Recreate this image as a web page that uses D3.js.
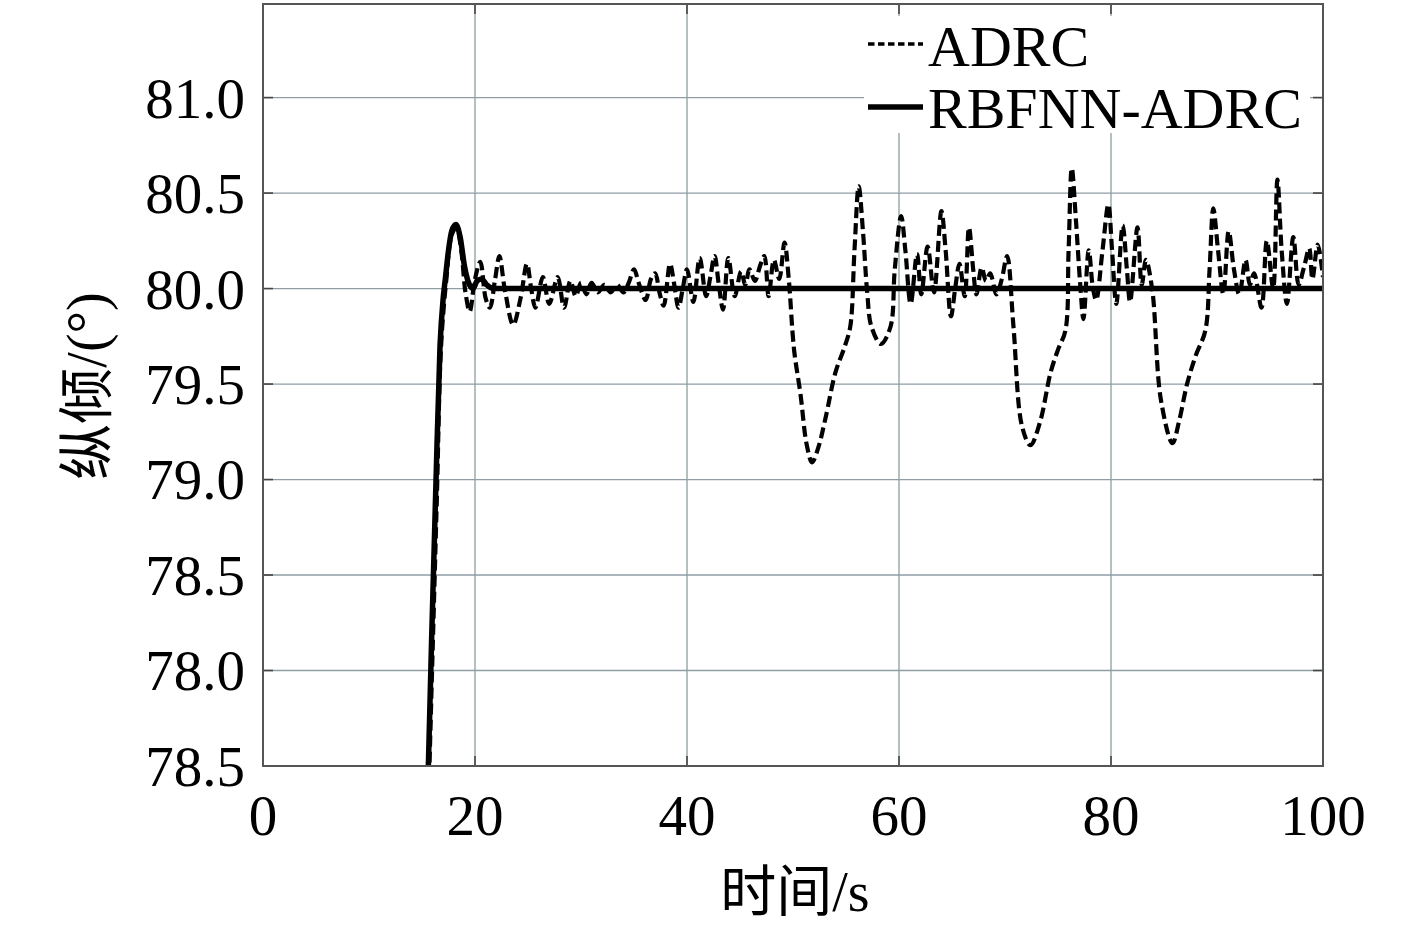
<!DOCTYPE html>
<html>
<head>
<meta charset="utf-8">
<script src="https://d3js.org/d3.v7.min.js"></script>
<style>
  body { margin: 0; background: #fff; }
  text { font-family: "Liberation Serif", "Times New Roman", "Noto Sans CJK SC", serif; fill: #000; }
</style>
</head>
<body>
<div id="chart"></div>
<script>
// x ticks and y ticks (the bottom label reads 78.5 in the original figure)
var xTicks = [0, 20, 40, 60, 80, 100];
var yTickValues = [81.0, 80.5, 80.0, 79.5, 79.0, 78.5, 78.0, 77.5];
var yTickLabels = ["81.0", "80.5", "80.0", "79.5", "79.0", "78.5", "78.0", "78.5"];
var seriesNames = ["ADRC", "RBFNN-ADRC"];

// RBFNN-ADRC response
var rbfT = [15.4, 15.6, 15.9, 16.3, 16.7, 17.0, 17.2, 17.5, 17.8, 18.2, 18.6, 19.0, 19.4, 19.8, 20.2, 20.6, 21.1, 21.7, 30, 50, 70, 100];
var rbfV = [77.1, 77.5, 78.15, 78.95, 79.7, 79.95, 80.05, 80.2, 80.3, 80.335, 80.27, 80.12, 80.03, 80.0, 80.04, 80.05, 80.02, 80.0, 80.0, 80.0, 80.0, 80.0];

// ADRC response
var adrcT = [15.5, 15.7, 16.0, 16.4, 16.8, 17.3, 17.8, 18.25, 18.7, 19.1, 19.5, 20.0, 20.5, 21.0, 21.4, 21.9, 22.3, 22.8, 23.6, 24.3,
  24.9, 25.3, 25.7, 26.4, 27.0, 27.8, 28.4, 29.0, 29.5, 30.0, 30.5, 31.0, 31.6, 32.2, 32.8, 33.4, 34.0, 34.5, 35.0, 35.5,
  36.1, 36.6, 37.0, 37.4, 37.8, 38.4, 38.8, 39.2, 39.6, 40.0, 40.6, 41.2, 41.8, 42.2, 42.6, 43.0, 43.4, 43.9, 44.5, 45.1,
  45.5, 45.9, 46.4, 46.9, 47.3, 47.7, 48.2, 48.7, 49.2, 49.6, 50.1, 50.7, 51.3, 51.8, 52.4, 53.1, 54.0, 54.9, 55.4, 55.8,
  56.2, 56.6, 57.0, 57.4, 58.3, 59.2, 59.6, 60.2, 60.6, 61.1, 61.7, 62.1, 62.7, 63.3, 64.0, 64.4, 64.9, 65.3, 65.7, 66.2,
  66.6, 67.0, 67.3, 67.8, 68.2, 68.6, 69.2, 69.7, 70.2, 70.8, 71.6, 72.4, 73.3, 74.3, 75.0, 75.7, 76.0, 76.3, 76.7, 77.1,
  77.4, 77.9, 78.3, 78.6, 79.2, 79.75, 80.1, 80.5, 81.1, 81.5, 81.8, 82.5, 82.9, 83.3, 83.9, 84.7, 85.8, 86.4, 87.2, 88.0,
  88.9, 89.3, 89.65, 90.1, 90.6, 91.1, 91.6, 92.1, 92.7, 93.1, 93.5, 94.2, 94.7, 95.3, 95.7, 96.1, 96.6, 97.2, 97.7, 98.2,
  98.7, 99.0, 99.5, 100];
var adrcV = [77.1, 77.5, 78.1, 78.9, 79.7, 80.05, 80.28, 80.32, 80.2, 79.98, 79.88, 80.05, 80.14, 79.95, 79.9, 80.05, 80.17, 80.0, 79.81, 79.95,
  80.13, 80.0, 79.9, 80.06, 79.92, 80.06, 79.9, 80.04, 79.96, 80.03, 79.97, 80.03, 79.98, 80.02, 79.98, 80.02, 79.98, 80.03, 80.1, 80.02,
  79.94, 80.05, 80.08, 79.98, 79.91, 80.13, 80.02, 79.9, 80.0, 80.1, 79.93, 80.16, 79.96, 80.06, 80.17, 80.02, 79.89, 80.16, 79.96, 80.09,
  80.02, 80.1, 80.04, 80.12, 80.17, 79.96, 80.15, 80.05, 80.24, 80.05, 79.68, 79.45, 79.18, 79.09, 79.17, 79.33, 79.56, 79.70, 79.80, 80.2,
  80.535, 80.3, 79.98, 79.80, 79.71, 79.8, 80.1, 80.38, 80.2, 79.92, 80.18, 79.97, 80.22, 79.98, 80.405, 80.2, 79.855, 80.0, 80.13, 79.96,
  80.32, 80.1, 79.97, 80.11, 80.04, 80.08, 79.97, 80.05, 80.17, 79.8, 79.28, 79.18, 79.3, 79.56, 79.68, 79.78, 80.2, 80.63, 80.35, 80.02,
  79.84, 80.2, 80.0, 79.94, 80.2, 80.44, 80.2, 79.92, 80.33, 80.1, 79.93, 80.32, 80.02, 80.15, 79.99, 79.42, 79.19, 79.3, 79.505, 79.65,
  79.78, 80.1, 80.42, 80.2, 79.97, 80.3, 80.1, 79.97, 80.15, 80.02, 80.08, 79.9, 80.25, 80.0, 80.57, 80.2, 79.92, 80.27, 80.02, 80.11,
  80.21, 80.05, 80.23, 80.06];

var W = 1417, H = 933;
var margin = {top: 4, right: 94, bottom: 167, left: 263};
var width = W - margin.left - margin.right,
    height = H - margin.top - margin.bottom;

var svg = d3.select("#chart").append("svg")
    .attr("width", W)
    .attr("height", H);

var g = svg.append("g")
    .attr("transform", "translate(" + margin.left + "," + margin.top + ")");

var x = d3.scaleLinear().domain([0, 100]).range([0, width]);
var y = d3.scaleLinear().domain([77.5, 81.49]).range([height, 0]);

// grid
var gridColor = "#8e9ea4";
g.append("g").selectAll("line.gx")
    .data(xTicks.slice(1, -1))
    .enter().append("line")
    .attr("x1", function(d) { return x(d); })
    .attr("x2", function(d) { return x(d); })
    .attr("y1", 0).attr("y2", height)
    .attr("stroke", gridColor).attr("stroke-width", 1.3);
g.append("g").selectAll("line.gy")
    .data(yTickValues.slice(0, -1))
    .enter().append("line")
    .attr("x1", 0).attr("x2", width)
    .attr("y1", function(d) { return y(d); })
    .attr("y2", function(d) { return y(d); })
    .attr("stroke", gridColor).attr("stroke-width", 1.3);

// inward tick marks on all four sides
var tickLen = 10, tickColor = "#444";
var tk = g.append("g").attr("stroke", tickColor).attr("stroke-width", 1.6);
xTicks.forEach(function(d) {
    tk.append("line").attr("x1", x(d)).attr("x2", x(d)).attr("y1", height).attr("y2", height - tickLen);
    tk.append("line").attr("x1", x(d)).attr("x2", x(d)).attr("y1", 0).attr("y2", tickLen);
});
yTickValues.forEach(function(d) {
    tk.append("line").attr("x1", 0).attr("x2", tickLen).attr("y1", y(d)).attr("y2", y(d));
    tk.append("line").attr("x1", width).attr("x2", width - tickLen).attr("y1", y(d)).attr("y2", y(d));
});

// clip
g.append("clipPath").attr("id", "clip")
  .append("rect").attr("x", 0).attr("y", 0).attr("width", width).attr("height", height);

var adrcData = adrcT.map(function(t, i) { return {t: t, v: adrcV[i]}; });
var rbfData = rbfT.map(function(t, i) { return {t: t, v: rbfV[i]}; });

var lineSmooth = d3.line()
    .x(function(d) { return x(d.t); })
    .y(function(d) { return y(d.v); })
    .curve(d3.curveCatmullRom.alpha(0.5));
var lineMono = d3.line()
    .x(function(d) { return x(d.t); })
    .y(function(d) { return y(d.v); })
    .curve(d3.curveMonotoneX);

var plot = g.append("g").attr("clip-path", "url(#clip)");
plot.append("path")
    .datum(rbfData)
    .attr("fill", "none")
    .attr("stroke", "#000")
    .attr("stroke-width", 5.5)
    .attr("d", lineMono);
plot.append("path")
    .datum(adrcData)
    .attr("fill", "none")
    .attr("stroke", "#000")
    .attr("stroke-width", 4.2)
    .attr("stroke-dasharray", "11,5")
    .attr("d", lineSmooth);

// frame
g.append("rect")
    .attr("x", 0).attr("y", 0)
    .attr("width", width).attr("height", height)
    .attr("fill", "none")
    .attr("stroke", "#555")
    .attr("stroke-width", 2);

// tick labels
g.append("g").selectAll("text")
    .data(yTickValues)
    .enter().append("text")
    .attr("x", -18)
    .attr("y", function(d) { return y(d); })
    .attr("dy", "0.35em")
    .attr("text-anchor", "end")
    .style("font-size", "57px")
    .text(function(d, i) { return yTickLabels[i]; });

g.append("g").selectAll("text")
    .data(xTicks)
    .enter().append("text")
    .attr("x", function(d) { return x(d); })
    .attr("y", height + 69)
    .attr("text-anchor", "middle")
    .style("font-size", "57px")
    .text(function(d) { return d; });

// axis titles
svg.append("text")
    .attr("x", 795)
    .attr("y", 911)
    .attr("text-anchor", "middle")
    .style("font-size", "56px")
    .text("时间/s");

svg.append("text")
    .attr("transform", "translate(106,386) rotate(-90)")
    .attr("text-anchor", "middle")
    .style("font-size", "56px")
    .text("纵倾/(°)");

// legend
var lg = svg.append("g");
lg.append("rect")
    .attr("x", 864).attr("y", 16)
    .attr("width", 446).attr("height", 117)
    .attr("fill", "#fff");
lg.append("line")
    .attr("x1", 868).attr("x2", 923).attr("y1", 44).attr("y2", 44)
    .attr("stroke", "#000").attr("stroke-width", 3.5)
    .attr("stroke-dasharray", "6.5,3.5");
lg.append("line")
    .attr("x1", 868).attr("x2", 923).attr("y1", 107).attr("y2", 107)
    .attr("stroke", "#000").attr("stroke-width", 5.5);
lg.append("text")
    .attr("x", 928).attr("y", 66)
    .style("font-size", "58px")
    .text(seriesNames[0]);
lg.append("text")
    .attr("x", 928).attr("y", 128)
    .style("font-size", "58px")
    .text(seriesNames[1]);
</script>
</body>
</html>
